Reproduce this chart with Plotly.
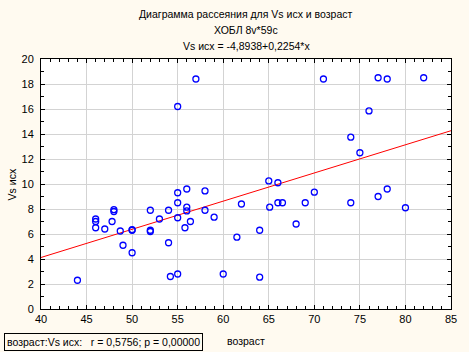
import plotly.graph_objects as go

# age (возраст)
age = [44, 46, 46, 46, 47, 47.8, 48, 48, 48.7, 49, 50, 50, 50, 52, 52, 52, 53, 54, 54, 54.2,
       55, 55, 55, 55, 55, 56, 56, 56, 55.8, 56.4, 57, 58, 58, 59, 60, 61.5, 62, 64, 64,
       65, 65.1, 66, 66, 66.5, 68, 69, 70, 71, 74, 74, 75, 76, 77, 77, 78, 78, 80, 82]
# Vs исх
vs = [2.3, 7.0, 7.2, 6.5, 6.4, 7.0, 7.8, 7.95, 6.24, 5.1, 4.5, 6.3, 6.35, 7.9, 6.2, 6.3, 7.2, 7.9, 5.3, 2.6,
      9.3, 8.5, 7.3, 2.8, 16.2, 9.6, 8.15, 7.85, 6.5, 7.0, 18.4, 9.45, 7.9, 7.35, 2.8, 5.75, 8.4, 6.3, 2.55,
      10.25, 8.15, 10.1, 8.5, 8.5, 6.8, 8.5, 9.35, 18.4, 8.5, 13.75, 12.5, 15.85, 18.5, 9.0, 18.4, 9.6, 8.1, 18.5]

intercept = -4.8938
slope = 0.2254
x_range = [40, 85]
y_range = [0, 20]

title_lines = ["Диаграмма рассеяния для Vs исх и возраст", "ХОБЛ 8v*59с", "Vs исх = -4,8938+0,2254*x"]
legend_text = "возраст:Vs исх:   r = 0,5756; p = 0,00000"

line_x = x_range
line_y = [intercept + slope * v for v in line_x]

FONT = "Liberation Sans, Arial, sans-serif"
BG = "#FFFAF0"

fig = go.Figure()
fig.add_trace(go.Scatter(x=line_x, y=line_y, mode="lines",
                         line=dict(color="#FF0000", width=1), hoverinfo="skip"))
fig.add_trace(go.Scatter(x=age, y=vs, mode="markers",
                         marker=dict(symbol="circle-open", color="#0000FF", size=6,
                                     line=dict(width=1.3, color="#0000FF"))))

W, H = 469, 352
L, R, T, B = 41, 12, 59, 43

axis_common = dict(showline=True, linecolor="black", linewidth=1, mirror="ticks",
                   ticks="inside", ticklen=4, tickcolor="black",
                   showgrid=True, gridcolor="#D3D3D3", gridwidth=1, zeroline=False,
                   tickfont=dict(family=FONT, size=11, color="black"))

fig.update_layout(
    width=W, height=H,
    margin=dict(l=L, r=R, t=T, b=B, pad=0),
    paper_bgcolor=BG, plot_bgcolor="white",
    showlegend=False,
    font=dict(family=FONT, size=11, color="black"),
    xaxis=dict(range=x_range, dtick=5, tick0=40,
               minor=dict(dtick=1, ticks="inside", ticklen=3, tickcolor="black", showgrid=False),
               **axis_common),
    yaxis=dict(range=y_range, dtick=2, tick0=0,
               minor=dict(dtick=1, ticks="inside", ticklen=3, tickcolor="black", showgrid=False),
               ticklabelstandoff=4,
               **axis_common),
)

for i, t in enumerate(title_lines):
    fig.add_annotation(text=t, xref="paper", yref="paper", x=0.5, y=1 + (45 - 16 * i) / 250.0,
                       yanchor="middle", xanchor="center", showarrow=False,
                       font=dict(family=FONT, size=10.5, color="black"))

fig.add_annotation(text="Vs исх", xref="paper", yref="paper", x=-29 / 415.7, y=0.5,
                   textangle=-90, showarrow=False, xanchor="center", yanchor="middle",
                   font=dict(family=FONT, size=10.5, color="black"))
fig.add_annotation(text="возраст", xref="paper", yref="paper", x=0.5, y=-32 / 250.0,
                   showarrow=False, xanchor="center", yanchor="middle",
                   font=dict(family=FONT, size=10.5, color="black"))
fig.add_annotation(text=legend_text, xref="paper", yref="paper", x=-38 / 415.7, y=-32.5 / 250.0,
                   showarrow=False, xanchor="left", yanchor="middle",
                   bordercolor="black", borderwidth=1, borderpad=2, bgcolor=BG,
                   font=dict(family=FONT, size=10.5, color="black"))

fig.write_html("out.html")
